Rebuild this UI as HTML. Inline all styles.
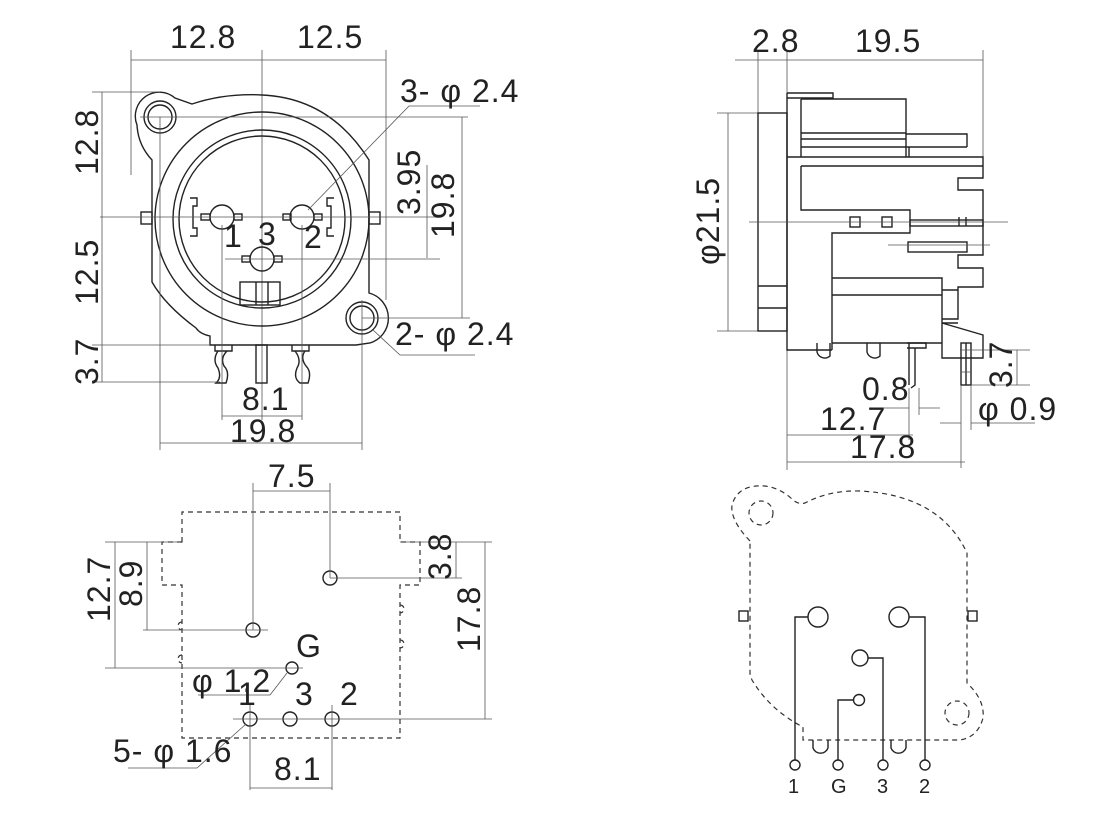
<!DOCTYPE html>
<html><head><meta charset="utf-8"><style>
html,body{margin:0;padding:0;background:#fff}
svg{display:block}
text{font-family:"Liberation Sans",sans-serif;fill:#222;font-size:32px;letter-spacing:1px}
.m{stroke:#222;stroke-width:1.4;fill:none}
.d{stroke:#555;stroke-width:0.8;fill:none}
.ds{stroke:#333;stroke-width:1.2;fill:none;stroke-dasharray:5 4}
</style></head><body>
<svg width="1120" height="822" viewBox="0 0 1120 822" xmlns="http://www.w3.org/2000/svg">
<!-- ===== Top-left front view ===== -->
<g>
<line class="d" x1="131" y1="50" x2="131" y2="175"/>
<line class="d" x1="262" y1="50" x2="262" y2="420"/>
<line class="d" x1="386" y1="50" x2="386" y2="300"/>
<line class="d" x1="131" y1="60" x2="386" y2="60"/>
<text x="170" y="48">12.8</text><text x="297" y="48">12.5</text>
<!-- body -->
<path class="m" d="M152,282 L152,160 Q138,145 137,125 A24,24 0 0 1 175,98 L192,104 Q225,93 262,95 Q330,98 369,160 L369,293 A26,26 0 0 1 370,343 L356,345 L210,345 L210,336 Q200,334 196,328 Q165,305 152,282 Z"/>
<circle class="m" cx="160" cy="117" r="16"/><circle class="m" cx="160" cy="117" r="12"/>
<circle class="m" cx="362" cy="318" r="16"/><circle class="m" cx="362" cy="318" r="12"/>
<circle class="m" cx="262" cy="219" r="107"/>
<circle class="m" cx="262" cy="219" r="89"/>
<circle class="m" cx="262" cy="219" r="83"/>
<rect class="m" x="141" y="212" width="11" height="12"/><rect class="m" x="369" y="212" width="11" height="12"/>
<path class="m" d="M190,198 L197,198 L197,206 L193,206 L193,228 L197,228 L197,236 L190,236"/>
<path class="m" d="M334,198 L327,198 L327,206 L331,206 L331,228 L327,228 L327,236 L334,236"/>
<circle class="m" cx="222" cy="217" r="12"/><circle class="m" cx="302" cy="217" r="12"/><circle class="m" cx="262" cy="259" r="12"/>
<rect class="m" x="201" y="214" width="9" height="6"/><rect class="m" x="234" y="214" width="8" height="6"/>
<rect class="m" x="283" y="214" width="8" height="6"/><rect class="m" x="314" y="214" width="8" height="6"/>
<rect class="m" x="242" y="256" width="8" height="6"/><rect class="m" x="274" y="256" width="8" height="6"/>
<rect class="m" x="240" y="282" width="40" height="23"/><line class="m" x1="256" y1="282" x2="256" y2="305"/><line class="m" x1="268" y1="282" x2="268" y2="305"/>
<!-- pins below -->
<path class="m" d="M215,345 L215,351 L232,351 L232,345 M218,351 Q212,360 218,368 Q222,378 216,383 L226,383 Q230,372 224,366 Q220,358 227,351"/>
<rect class="m" x="256" y="345" width="11" height="38"/>
<path class="m" d="M292,345 L292,351 L309,351 L309,345 M295,351 Q302,360 297,368 Q293,378 300,383 L308,383 Q312,372 306,366 Q300,358 305,351"/>
<!-- dims -->
<line class="d" x1="92" y1="92" x2="160" y2="92"/>
<line class="d" x1="100" y1="217" x2="440" y2="217"/>
<line class="d" x1="92" y1="345" x2="210" y2="345"/>
<line class="d" x1="92" y1="382" x2="220" y2="382"/>
<line class="d" x1="102" y1="92" x2="102" y2="382"/>
<line class="d" x1="140" y1="117" x2="468" y2="117"/>
<line class="d" x1="462" y1="117" x2="462" y2="318"/>
<line class="d" x1="362" y1="318" x2="470" y2="318"/>
<line class="d" x1="427" y1="165" x2="427" y2="258"/>
<line class="d" x1="225" y1="259" x2="440" y2="259"/>
<line class="d" x1="160" y1="117" x2="160" y2="450"/>
<line class="d" x1="362" y1="300" x2="362" y2="450"/>
<line class="d" x1="222" y1="225" x2="222" y2="420"/>
<line class="d" x1="302" y1="225" x2="302" y2="420"/>
<line class="d" x1="222" y1="416" x2="302" y2="416"/>
<line class="d" x1="160" y1="443" x2="362" y2="443"/>
<polyline class="d" points="308,210 409,106 480,106"/>
<polyline class="d" points="373,330 400,355 475,355"/>
<text x="400" y="102">3- φ 2.4</text>
<text x="395" y="345">2- φ 2.4</text>
<text x="242" y="410">8.1</text><text x="230" y="442">19.8</text>
<text transform="translate(98,175) rotate(-90)">12.8</text>
<text transform="translate(98,305) rotate(-90)">12.5</text>
<text transform="translate(98,385) rotate(-90)">3.7</text>
<text transform="translate(420,215) rotate(-90)">3.95</text>
<text transform="translate(454,238) rotate(-90)">19.8</text>
<text x="224" y="247">1</text><text x="258" y="245">3</text><text x="304" y="248">2</text>
</g>
<!-- ===== Top-right side view ===== -->
<g>
<line class="d" x1="758" y1="50" x2="758" y2="113"/>
<line class="d" x1="787" y1="50" x2="787" y2="470"/>
<line class="d" x1="983" y1="50" x2="983" y2="157"/>
<line class="d" x1="735" y1="60" x2="983" y2="60"/>
<text x="752" y="52">2.8</text><text x="855" y="52">19.5</text>
<line class="d" x1="717" y1="113" x2="758" y2="113"/>
<line class="d" x1="717" y1="331" x2="758" y2="331"/>
<line class="d" x1="728" y1="113" x2="728" y2="331"/>
<text transform="translate(719,265) rotate(-90)">φ21.5</text>
<rect class="m" x="758" y="113" width="29" height="218"/>
<line class="m" x1="758" y1="286" x2="787" y2="286"/><line class="m" x1="758" y1="308" x2="787" y2="308"/>
<path class="m" d="M787,93 L833,93 L833,98 L787,98"/>
<path class="m" d="M787,93 L787,350 L832,350 M801,99 L906,99 L906,157 M801,99 L801,157 L787,157 M801,133 L906,133 M801,139 L906,139 M801,147 L967,147 M906,134 L967,134 L967,147 M909,147 L909,157 M787,157 L983,157 L983,178 L958,178 L958,190 L983,190 L983,217"/>
<path class="m" d="M801,166 L801,210 L910,210 L910,233 L832,233 L832,350 M801,166 L983,166"/>
<rect class="m" x="850" y="217" width="10" height="10"/><rect class="m" x="882" y="217" width="10" height="10"/>
<rect class="m" x="910" y="220" width="73" height="6"/><line class="m" x1="959" y1="217" x2="959" y2="226"/><line class="m" x1="966" y1="217" x2="966" y2="226"/>
<rect class="m" x="908" y="242" width="59" height="10"/>
<path class="m" d="M983,217 L983,255 L958,255 L958,268 L983,268 L983,287 L958,287 L958,290 M832,278 L942,278 L942,343 M832,295 L942,295 M942,290 L958,290 L958,319 L942,319 M942,323 L983,335 L983,358 L942,358 L942,343 L832,343 M942,323 L958,323"/>
<path class="m" d="M817,343 L817,352 A8,8 0 0 0 830,356 L830,343 M867,343 L867,352 A8,8 0 0 0 880,356 L880,343"/>
<path class="m" d="M909,343 L909,385 M915,348 L915,385 L911,388 M907,343 L926,343 L926,348 L907,348"/>
<rect class="m" x="961" y="343" width="10" height="42"/><line class="m" x1="966" y1="343" x2="966" y2="385"/><line class="d" x1="961" y1="372" x2="971" y2="372"/>
<line class="d" x1="749" y1="222" x2="1008" y2="222"/>
<line class="d" x1="888" y1="245" x2="990" y2="245"/>
<line class="d" x1="960" y1="350" x2="1030" y2="350"/>
<line class="d" x1="971" y1="385" x2="1030" y2="385"/>
<line class="d" x1="1017" y1="350" x2="1017" y2="385"/>
<text transform="translate(1012,388) rotate(-90)">3.7</text>
<line class="d" x1="909" y1="388" x2="909" y2="440"/><line class="d" x1="919" y1="388" x2="919" y2="415"/>
<line class="d" x1="880" y1="408" x2="909" y2="408"/><line class="d" x1="919" y1="408" x2="940" y2="408"/>
<text x="862" y="400">0.8</text>
<line class="d" x1="961" y1="385" x2="961" y2="468"/><line class="d" x1="971" y1="385" x2="971" y2="430"/>
<line class="d" x1="940" y1="423" x2="961" y2="423"/><line class="d" x1="971" y1="423" x2="1035" y2="423"/>
<text x="978" y="420">φ 0.9</text>
<line class="d" x1="787" y1="435" x2="913" y2="435"/>
<line class="d" x1="787" y1="462" x2="965" y2="462"/>
<text x="820" y="430">12.7</text><text x="850" y="458">17.8</text>
</g>
<!-- ===== Bottom-left PCB view ===== -->
<g>
<path class="ds" d="M182,542 L182,512 L400,512 L400,542 L420,542 L420,585 L400,585 L400,738 L182,738 L182,585 L162,585 L162,542 Z"/>
<path class="ds" d="M182,622 A4,4 0 0 0 182,630 M182,655 A4,4 0 0 0 182,663 M400,605 A4,4 0 0 1 400,613 M400,640 A4,4 0 0 1 400,648"/>
<circle class="m" cx="330" cy="578" r="7"/><circle class="m" cx="253" cy="630" r="7"/>
<circle class="m" cx="292" cy="668" r="6"/>
<circle class="m" cx="250" cy="719" r="7"/><circle class="m" cx="290" cy="719" r="7"/><circle class="m" cx="332" cy="719" r="7"/>
<line class="d" x1="253" y1="483" x2="253" y2="630"/><line class="d" x1="330" y1="483" x2="330" y2="578"/>
<line class="d" x1="253" y1="491" x2="330" y2="491"/>
<text x="268" y="487">7.5</text>
<line class="d" x1="105" y1="542" x2="180" y2="542"/><line class="d" x1="400" y1="542" x2="492" y2="542"/>
<line class="d" x1="115" y1="542" x2="115" y2="668"/><line class="d" x1="147" y1="542" x2="147" y2="630"/>
<line class="d" x1="143" y1="630" x2="268" y2="630"/><line class="d" x1="105" y1="668" x2="303" y2="668"/>
<line class="d" x1="330" y1="578" x2="462" y2="578"/>
<line class="d" x1="456" y1="542" x2="456" y2="578"/>
<line class="d" x1="485" y1="542" x2="485" y2="719"/>
<line class="d" x1="233" y1="719" x2="492" y2="719"/>
<line class="d" x1="250" y1="705" x2="250" y2="790"/><line class="d" x1="332" y1="705" x2="332" y2="790"/>
<line class="d" x1="250" y1="788" x2="332" y2="788"/>
<polyline class="d" points="198,695 270,695 287,673"/>
<polyline class="d" points="128,768 197,768 246,724"/>
<text transform="translate(110,622) rotate(-90)">12.7</text>
<text transform="translate(142,607) rotate(-90)">8.9</text>
<text transform="translate(451,580) rotate(-90)">3.8</text>
<text transform="translate(480,652) rotate(-90)">17.8</text>
<text x="296" y="657">G</text>
<text x="192" y="692">φ 1.2</text>
<text x="238" y="705">1</text><text x="295" y="705">3</text><text x="340" y="705">2</text>
<text x="113" y="762">5- φ 1.6</text>
<text x="274" y="780">8.1</text>
</g>
<!-- ===== Bottom-right schematic ===== -->
<g>
<path class="ds" d="M750,541 Q730,520 732,505 Q738,484 765,486 Q780,488 792,499 Q798,505 805,503 Q830,490 860,491 Q940,495 967,553 L967,683 Q985,700 983,718 Q978,737 960,740 L803,740 L803,727 Q770,710 752,680 L750,675 Z"/>
<circle class="ds" cx="761" cy="513" r="12"/><circle class="ds" cx="957" cy="713" r="12"/>
<rect class="m" x="739" y="611" width="9" height="10"/><rect class="m" x="968" y="611" width="9" height="10"/>
<circle class="m" cx="818" cy="617" r="10"/><circle class="m" cx="899" cy="617" r="10"/>
<circle class="m" cx="860" cy="658" r="8"/><circle class="m" cx="859" cy="700" r="5.5"/>
<path class="m" d="M808,617 L795,617 L795,760 M909,617 L925,617 L925,760 M868,658 L883,658 L883,760 M853,700 L838,700 L838,760"/>
<path class="m" d="M813,740 L813,748 A8,8 0 0 0 828,748 L828,740 M891,740 L891,748 A8,8 0 0 0 906,748 L906,740"/>
<circle class="m" cx="795" cy="765" r="5"/><circle class="m" cx="838" cy="765" r="5"/><circle class="m" cx="883" cy="765" r="5"/><circle class="m" cx="925" cy="765" r="5"/>
<text x="788" y="793" style="font-size:20px;letter-spacing:0">1</text><text x="831" y="793" style="font-size:20px;letter-spacing:0">G</text>
<text x="877" y="793" style="font-size:20px;letter-spacing:0">3</text><text x="919" y="793" style="font-size:20px;letter-spacing:0">2</text>
</g>
</svg>
</body></html>
